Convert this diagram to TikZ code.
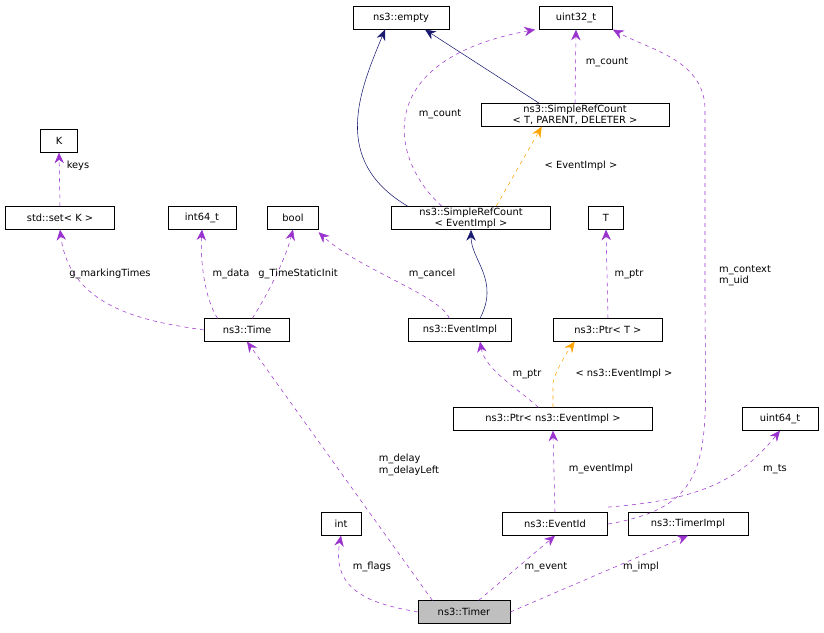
\documentclass[tikz,border=0pt]{standalone}
\usepackage{fontspec}
\setmainfont{DejaVu Sans}
\usetikzlibrary{arrows.meta}
\definecolor{dep}{HTML}{9A32CD}
\definecolor{inh}{HTML}{191970}
\definecolor{tpl}{HTML}{FFA500}

\begin{document}
\begin{tikzpicture}[
    x=0.75pt,y=-0.75pt,
    every node/.style={font=\fontsize{7.4}{8.4}\selectfont},
    cls/.style={rectangle,draw,fill=white,inner sep=1pt,minimum height=17pt,align=center},
    usedby/.style={draw=dep,dashed,-{Stealth[length=8pt,width=7pt,fill=dep]}},
    inherit/.style={draw=inh,-{Stealth[length=8pt,width=7pt,fill=inh]}},
    tmpl/.style={draw=tpl,dashed,-{Stealth[length=8pt,width=7pt,fill=tpl]}},
    lbl/.style={align=left,inner sep=1pt}
    ]
    \useasboundingbox (0,0) rectangle (824,632);

    \node (empty) [cls,minimum width=72pt] at (401,18) {ns3::empty};
    \node (uint32) [cls,minimum width=55pt] at (576,18) {uint32\_t};
    \node (K) [cls,minimum width=28pt] at (59,141) {K};
    \node (refT) [cls,minimum width=141pt] at (575,115) {ns3::SimpleRefCount\\< T, PARENT, DELETER >};
    \node (set) [cls,minimum width=82pt] at (60,218) {std::set< K >};
    \node (int64) [cls,minimum width=51pt] at (202,218) {int64\_t};
    \node (bool) [cls,minimum width=38pt] at (293,218) {bool};
    \node (refE) [cls,minimum width=119pt] at (471,218) {ns3::SimpleRefCount\\< EventImpl >};
    \node (T) [cls,minimum width=26pt] at (606,218) {T};
    \node (time) [cls,minimum width=64pt] at (247,330) {ns3::Time};
    \node (eimpl) [cls,minimum width=77pt] at (460,330) {ns3::EventImpl};
    \node (ptrT) [cls,minimum width=82pt] at (608,330) {ns3::Ptr< T >};
    \node (ptrE) [cls,minimum width=149pt] at (553,419) {ns3::Ptr< ns3::EventImpl >};
    \node (uint64) [cls,minimum width=57pt] at (780,419) {uint64\_t};
    \node (int) [cls,minimum width=30pt] at (341,524) {int};
    \node (eid) [cls,minimum width=79pt] at (555,524) {ns3::EventId};
    \node (timpl) [cls,minimum width=90pt] at (688,524) {ns3::TimerImpl};
    \node (timer) [cls,minimum width=69pt,fill=black!25] at (464,612) {ns3::Timer};

    % inheritance
    \draw[inherit] ([xshift=12pt]refE.north west) .. controls (330,160) and (360,90) .. ([xshift=-12pt]empty.south);
    \draw[inherit] ([xshift=44pt]refT.north west) -- ([xshift=18pt]empty.south);
    \draw[inherit] ([xshift=15pt]eimpl.north) .. controls (500,280) and (471,260) .. (refE.south);

    % templates
    \draw[tmpl] ([xshift=19pt]refE.north) -- ([xshift=-25pt]refT.south);
    \draw[tmpl] (ptrE.north) -- ++(0,-18) .. controls (550,380) and (565,355) .. ([xshift=-25pt]ptrT.south);
    \node[lbl] at (581,166) {< EventImpl >};
    \node[lbl] at (624,374) {< ns3::EventImpl >};

    % members
    \draw[usedby] ([xshift=-22pt]refE.north) .. controls (390,160) and (370,60) .. ([xshift=-3pt]uint32.south west);
    \node[lbl] at (440,114) {m\_count};
    \draw[usedby] (refT.north) -- (uint32.south);
    \node[lbl] at (607,62) {m\_count};
    \draw[usedby] (set.north) -- (K.south);
    \node[lbl] at (78,166) {keys};
    \draw[usedby] (time.west) .. controls (150,322) and (70,310) .. (set.south);
    \node[lbl] at (110,274) {g\_markingTimes};
    \draw[usedby] ([xshift=-22pt]time.north) .. controls (205,300) and (200,260) .. (int64.south);
    \node[lbl] at (231,274) {m\_data};
    \draw[usedby] ([xshift=4pt]time.north) .. controls (270,290) and (285,260) .. (bool.south);
    \node[lbl] at (298,274) {g\_TimeStaticInit};
    \draw[usedby] ([xshift=-8pt]eimpl.north) .. controls (440,295) and (360,270) .. ([yshift=-2pt]bool.south east);
    \node[lbl] at (432,274) {m\_cancel};
    \draw[usedby] (ptrT.north) -- (T.south);
    \node[lbl] at (629,274) {m\_ptr};
    \draw[usedby] ([xshift=-11pt]ptrE.north) .. controls (520,390) and (485,370) .. ([xshift=15pt]eimpl.south);
    \node[lbl] at (527,374) {m\_ptr};
    \draw[usedby] (eid.east) .. controls (720,505) and (705,450) .. (705,300) -- (705,110) .. controls (705,60) and (650,50) .. (uint32.south east);
    \node[lbl] at (745,276) {m\_context\\m\_uid};
    \draw[usedby] (eid.north) -- (ptrE.south);
    \node[lbl] at (601,469) {m\_eventImpl};
    \draw[usedby] ([yshift=4pt]eid.north east) .. controls (700,500) and (740,480) .. (uint64.south);
    \node[lbl] at (775,469) {m\_ts};
    \draw[usedby] ([xshift=11pt]timer.north west) -- (time.south);
    \node[lbl] at (409,465) {m\_delay\\m\_delayLeft};
    \draw[usedby] (timer.west) .. controls (380,605) and (330,595) .. (int.south);
    \node[lbl] at (372,567) {m\_flags};
    \draw[usedby] ([xshift=11pt]timer.north) -- (eid.south);
    \node[lbl] at (546,567) {m\_event};
    \draw[usedby] (timer.east) -- (timpl.south);
    \node[lbl] at (641,567) {m\_impl};
\end{tikzpicture}
\end{document}
